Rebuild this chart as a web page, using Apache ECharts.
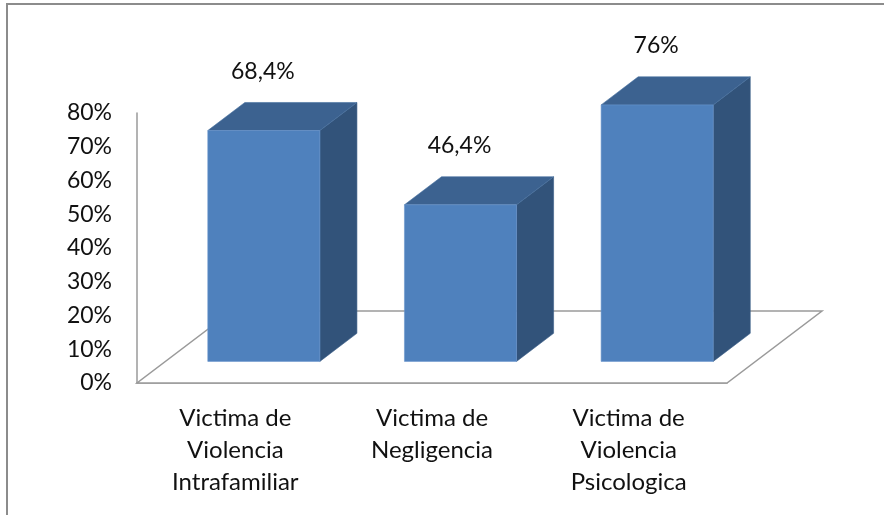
<!DOCTYPE html>
<html>
<head>
<meta charset="utf-8">
<style>
html,body{margin:0;padding:0;background:#fff;}
#frame{position:absolute;left:6px;top:3px;width:878px;height:512px;border-left:2px solid #8c8c8c;border-top:2px solid #8c8c8c;box-sizing:border-box;}
#chart{position:absolute;left:0;top:0;width:884px;height:515px;}
</style>
<script src="https://cdn.jsdelivr.net/npm/echarts@6/dist/echarts.min.js"></script>
</head>
<body>
<div id="frame"></div>
<div id="chart"></div>
<script>
// ---- data ----
const categories = ['Victima de\nViolencia\nIntrafamiliar', 'Victima de\nNegligencia', 'Victima de\nViolencia\nPsicologica'];
const values = [0.684, 0.464, 0.76];
const valueLabels = ['68,4%', '46,4%', '76%'];
const yTicks = [0, 0.1, 0.2, 0.3, 0.4, 0.5, 0.6, 0.7, 0.8];

// ---- style constants (pixels) ----
const FLOOR_DX = 95, FLOOR_DY = -72;      // depth of the floor
const BAR_FRONT = 0.30, BAR_DEPTH = 0.39; // fraction of floor depth
const BAR_W = 0.57;                        // fraction of band width
const FONT = 'Lato, "DejaVu Sans", sans-serif';

const chart = echarts.init(document.getElementById('chart'));

function floorItem(params, api) {
  const cs = params.coordSys;
  const x0 = cs.x, x1 = cs.x + cs.width, y = cs.y + cs.height;
  return {
    type: 'polygon',
    shape: { points: [[x0, y], [x1, y], [x1 + FLOOR_DX, y + FLOOR_DY], [x0 + FLOOR_DX, y + FLOOR_DY]] },
    style: { fill: '#ffffff', stroke: '#9a9a9a', lineWidth: 1.5 },
    z2: 0
  };
}

function barItem(params, api) {
  const idx = api.value(0);
  const base = api.coord([idx, 0]);
  const top = api.coord([idx, api.value(1)]);
  const band = api.size([1, 0])[0];
  const w = band * BAR_W;
  const ox = FLOOR_DX * BAR_FRONT, oy = FLOOR_DY * BAR_FRONT;
  const dx = FLOOR_DX * BAR_DEPTH, dy = FLOOR_DY * BAR_DEPTH;
  const l = base[0] + ox - w / 2, r = base[0] + ox + w / 2;
  const b = base[1] + oy, t = top[1] + oy;
  return {
    type: 'group',
    children: [
      { type: 'polygon', shape: { points: [[r, t], [r + dx, t + dy], [r + dx, b + dy], [r, b]] },
        style: { fill: '#32537A', stroke: '#3a5e88', lineWidth: 0.6 } },
      { type: 'polygon', shape: { points: [[l, t], [r, t], [r + dx, t + dy], [l + dx, t + dy]] },
        style: { fill: '#3C6290', stroke: '#4670a0', lineWidth: 0.6 } },
      { type: 'rect', shape: { x: l, y: t, width: w, height: b - t },
        style: { fill: '#4F81BD', stroke: '#6a96cc', lineWidth: 0.6 } },
      { type: 'text', x: (l + r) / 2 - 1, y: t + dy - 31,
        style: { text: valueLabels[params.dataIndex], fill: '#111', font: '23px ' + FONT,
                 align: 'center', verticalAlign: 'middle' } }
    ]
  };
}

chart.setOption({
  animation: false,
  grid: { left: 137, right: 157, top: 113, bottom: 132 },
  xAxis: {
    type: 'category',
    data: categories,
    axisLine: { show: true, lineStyle: { color: '#9a9a9a', width: 1.5 } },
    axisTick: { show: false },
    axisLabel: { interval: 0, color: '#111', fontFamily: FONT, fontSize: 24, lineHeight: 32, margin: 19 }
  },
  yAxis: {
    type: 'value',
    min: 0, max: 0.8, interval: 0.1,
    axisLine: { show: true, lineStyle: { color: '#9a9a9a', width: 1.5 } },
    axisTick: { show: false },
    splitLine: { show: false },
    axisLabel: {
      color: '#111', fontFamily: FONT, fontSize: 23, margin: 25,
      formatter: function (v) { return Math.round(v * 100) + '%'; },
      customValues: yTicks
    }
  },
  series: [
    { type: 'custom', renderItem: floorItem, data: [[0, 0]], z: 1, silent: true },
    { type: 'custom', renderItem: barItem, data: values.map((v, i) => [i, v]), z: 3 }
  ]
}, true);
</script>
</body>
</html>
